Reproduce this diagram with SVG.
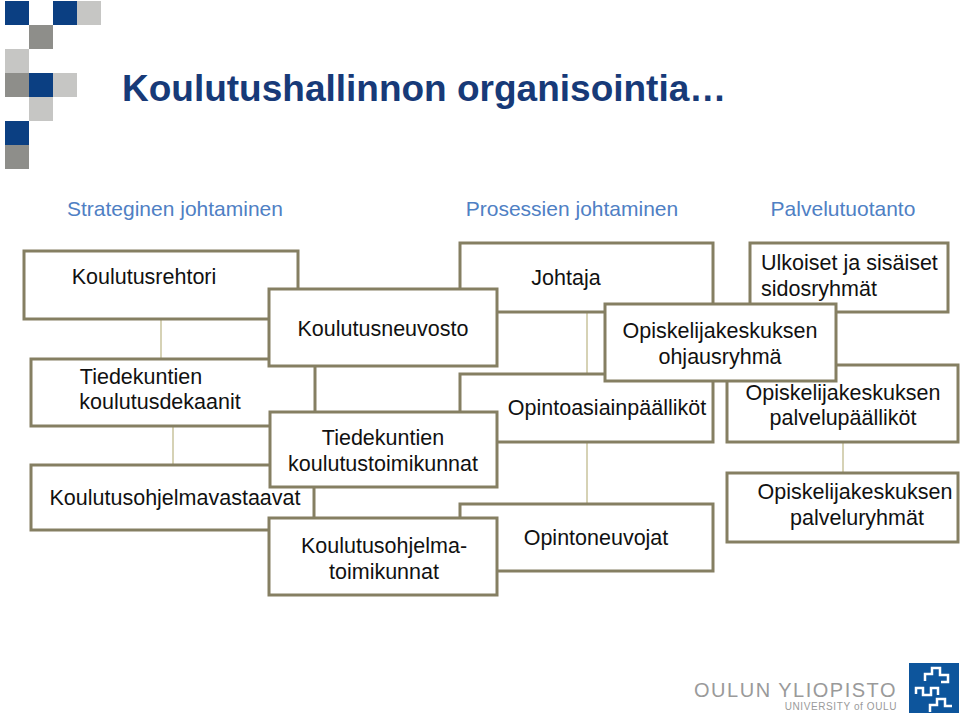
<svg xmlns="http://www.w3.org/2000/svg" width="960" height="716" viewBox="0 0 960 716">
<style>
.b{fill:#fff;stroke:#857f62;stroke-width:3}
.t{font-family:"Liberation Sans",Arial,sans-serif;font-size:21.5px;fill:#111;text-anchor:middle}
.h{font-family:"Liberation Sans",Arial,sans-serif;font-size:21px;fill:#4f80c4;text-anchor:middle}
.c{stroke:#c9c39c;stroke-width:1.5;fill:none}
.db{fill:#0b3f82}.dg{fill:#8e8e8a}.lg{fill:#c6c6c4}
</style>
<rect width="960" height="716" fill="#fff"/>
<g id="deco">
<rect class="db" x="5" y="1" width="24" height="24"/><rect class="db" x="53" y="1" width="24" height="24"/><rect class="lg" x="77" y="1" width="24" height="24"/>
<rect class="dg" x="29" y="25" width="24" height="24"/>
<rect class="lg" x="5" y="49" width="24" height="24"/>
<rect class="dg" x="5" y="73" width="24" height="24"/><rect class="db" x="29" y="73" width="24" height="24"/><rect class="lg" x="53" y="73" width="24" height="24"/>
<rect class="lg" x="29" y="97" width="24" height="24"/>
<rect class="db" x="5" y="121" width="24" height="24"/>
<rect class="dg" x="5" y="145" width="24" height="24"/>
</g>
<text x="122" y="101" font-family="Liberation Sans,Arial,sans-serif" font-size="37" font-weight="bold" fill="#173a78">Koulutushallinnon organisointia…</text>
<text class="h" x="175" y="216">Strateginen johtaminen</text>
<text class="h" x="572" y="216">Prosessien johtaminen</text>
<text class="h" x="843" y="216">Palvelutuotanto</text>
<g id="connectors">
<line class="c" x1="161" y1="319" x2="161" y2="359"/>
<line class="c" x1="173" y1="426" x2="173" y2="465"/>
<line class="c" x1="587" y1="311" x2="587" y2="375"/>
<line class="c" x1="587" y1="441" x2="587" y2="504"/>
<line class="c" x1="843" y1="441" x2="843" y2="473"/>
</g>
<g id="n7"><rect class="b" x="460" y="243" width="253" height="69"/><text class="t" x="566" y="285">Johtaja</text></g>
<g id="n8"><rect class="b" x="460" y="374" width="253" height="68"/><text class="t" x="607" y="415">Opintoasiainpäälliköt</text></g>
<g id="n9"><rect class="b" x="460" y="504" width="253" height="67"/><text class="t" x="596" y="545">Opintoneuvojat</text></g>
<g id="n1"><rect class="b" x="24" y="251" width="274" height="68"/><text class="t" x="144" y="284">Koulutusrehtori</text></g>
<g id="n3"><rect class="b" x="31" y="359" width="284" height="67"/><text class="t" x="141" y="384">Tiedekuntien</text><text class="t" x="160" y="409">koulutusdekaanit</text></g>
<g id="n5"><rect class="b" x="31" y="465" width="283" height="65"/><text class="t" x="175" y="505">Koulutusohjelmavastaavat</text></g>
<g id="n2"><rect class="b" x="269" y="289" width="228" height="77"/><text class="t" x="383" y="336">Koulutusneuvosto</text></g>
<g id="n4"><rect class="b" x="270" y="412" width="227" height="75"/><text class="t" x="383" y="445">Tiedekuntien</text><text class="t" x="383" y="471">koulutustoimikunnat</text></g>
<g id="n6"><rect class="b" x="269" y="518" width="228" height="77"/><text class="t" x="384" y="553">Koulutusohjelma-</text><text class="t" x="384" y="579">toimikunnat</text></g>
<g id="n10"><rect class="b" x="750" y="243" width="198" height="69"/><text x="761" y="270" font-family="Liberation Sans,Arial,sans-serif" font-size="21.5" fill="#111">Ulkoiset ja sisäiset</text><text x="761" y="296" font-family="Liberation Sans,Arial,sans-serif" font-size="21.5" fill="#111">sidosryhmät</text></g>
<g id="n12"><rect class="b" x="727" y="365" width="231" height="77"/><text class="t" x="843" y="400">Opiskelijakeskuksen</text><text class="t" x="843" y="425">palvelupäälliköt</text></g>
<g id="n11"><rect class="b" x="605" y="304" width="231" height="77"/><text class="t" x="720" y="338">Opiskelijakeskuksen</text><text class="t" x="720" y="364">ohjausryhmä</text></g>
<g id="n13"><rect class="b" x="727" y="473" width="231" height="69"/><text class="t" x="855" y="499">Opiskelijakeskuksen</text><text class="t" x="857" y="525">palveluryhmät</text></g>
<g id="logo">
<text x="897" y="697" text-anchor="end" font-family="Liberation Sans,Arial,sans-serif" font-size="20" fill="#9a9a9a" letter-spacing="1.5">OULUN YLIOPISTO</text>
<text x="897" y="710" text-anchor="end" font-family="Liberation Sans,Arial,sans-serif" font-size="10" fill="#9a9a9a" letter-spacing="0.6">UNIVERSITY of OULU</text>
<rect x="909" y="663" width="50" height="50" fill="#0d559c"/>
<g fill="none" stroke="#fff" stroke-width="2.5">
<polyline points="925,681 925,674 932,674 932,668 940,668 940,675 948,675 948,682 941,682"/>
<polyline points="916,694 916,688 923,688 923,695 931,695 931,688 938,688 938,695"/>
<polyline points="930,712 930,705 937,705 937,699 945,699 945,706 952,706"/>
</g>
</g>
</svg>
